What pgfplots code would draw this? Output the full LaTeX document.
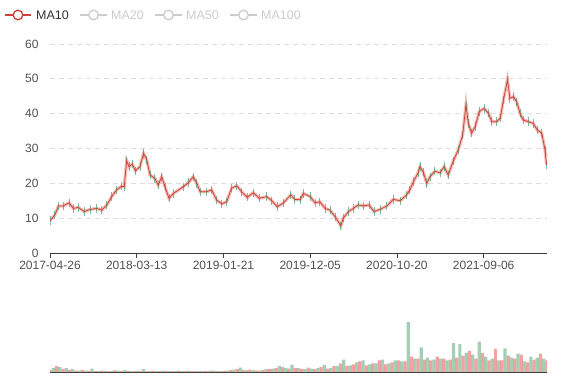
\documentclass[border=0pt]{standalone}
\usepackage{fontspec}
\setmainfont{Liberation Sans}
\usepackage{pgfplots}
\pgfplotsset{compat=1.18}
\usepackage{pgfplotstable}

\definecolor{up}{RGB}{235,84,84}
\definecolor{dn}{RGB}{71,160,110}
\definecolor{band}{RGB}{236,140,130}
\definecolor{ma}{RGB}{205,65,58}
\definecolor{txt}{RGB}{80,80,80}
\definecolor{gridc}{RGB}{222,222,222}
\definecolor{axc}{RGB}{60,60,60}
\definecolor{off}{RGB}{204,204,204}

\pgfplotstableread{
idx price
0 9.3
12 10.9
21 13.5
33 13.5
47 14.4
58 12.8
70 13.1
85 11.9
99 12.5
116 12.8
128 12.3
141 13.8
153 16.2
165 18.1
178 19.2
184 19.0
190 26.5
196 24.8
204 25.5
212 23.6
223 24.8
232 28.6
240 26.7
248 22.4
260 21.4
268 19.5
277 21.9
285 19.0
295 15.7
306 17.1
330 19.0
343 20.2
355 21.9
364 20.0
372 17.6
388 17.6
401 18.1
413 15.2
426 14.1
438 14.7
450 18.6
463 19.3
475 17.6
489 16.0
504 17.3
519 15.7
537 16.2
550 15.0
563 13.3
578 14.3
597 16.7
607 15.4
620 15.3
628 17.1
645 16.2
657 14.4
669 14.7
682 12.8
694 12.3
707 10.4
721 7.8
727 10.0
740 11.9
752 12.8
764 13.8
777 13.5
791 13.8
803 11.9
818 12.5
835 13.5
851 15.4
868 15.0
884 16.7
892 18.1
901 20.5
912 22.9
917 24.8
925 23.3
934 20.0
942 21.9
954 23.5
967 23.0
977 24.8
987 22.4
1000 26.5
1012 29.6
1023 33.9
1031 42.5
1037 37.2
1045 34.4
1054 36.3
1064 40.6
1076 41.5
1087 40.1
1095 37.7
1107 37.7
1116 38.7
1124 43.9
1134 49.7
1140 44.4
1149 44.9
1157 43.4
1165 40.1
1173 38.2
1186 37.7
1198 37.2
1208 35.3
1219 34.4
1227 29.6
1231 25.3
}\price

\pgfplotstableread{
idx vol
0 2
16 6
32 3
48 2
64 1.5
80 2
96 1.2
112 1
128 1.5
144 1
160 1.8
176 1
192 1.5
208 1
224 1.2
240 1
256 1.5
272 1
288 1.2
304 1
320 1.5
336 1
352 1.2
368 1
384 1.2
400 1.5
416 1
432 1.2
448 2
464 3
480 2
496 2.5
512 1.5
528 2
544 3
560 4
576 5
592 3.5
608 4
624 3
640 4.5
656 3
672 5
688 3.5
704 6
720 9
736 6
752 8
768 11
784 7
800 9
816 12
832 8
848 10
864 12
880 11
896 16
912 14
928 13
944 12
960 16
976 14
992 13
1008 15
1024 17
1040 22
1056 14
1072 20
1088 12
1104 24
1120 12
1136 17
1152 14
1168 18
1184 10
1200 13
1216 19
1232 12
}\volred

\pgfplotstableread{
idx vol
8 4
24 5
40 4
56 3
72 1.5
88 1.5
104 3.5
120 1
136 1.5
152 1
168 1.5
184 2
200 1
216 1.5
232 3
248 1.2
264 1
280 1.5
296 1
312 1.2
328 1
344 1.5
360 1
376 1.2
392 1
408 1.5
424 1
440 1.5
456 2.5
472 4.5
488 2
504 2
520 1.5
536 3
552 3.5
568 6.5
584 4
600 7.5
616 4
632 3
648 3.5
664 4
680 7.5
696 4
712 6
728 13
744 7
760 10
776 12
792 8
808 9
824 13
840 9
856 12
872 11
888 52
904 14
920 25.7
936 15
952 13
968 14
984 12
1000 30
1016 29
1032 20
1048 18
1064 31.5
1080 16
1096 14
1112 12
1128 24.7
1144 15
1160 19
1176 11
1192 16
1208 15
1224 14
}\volgreen

\begin{document}
\begin{tikzpicture}
\useasboundingbox (0pt,0pt) rectangle (577pt,380pt);
\begin{axis}[at={(50pt,127pt)}, anchor=south west, scale only axis,
  width=497pt, height=209pt,
  xmin=0, xmax=1232, ymin=0, ymax=60,
  ytick={0,10,...,60},
  xtick={0,215,430,645,860,1075},
  xticklabels={2017-04-26,2018-03-13,2019-01-21,2019-12-05,2020-10-20,2021-09-06},
  axis x line*=bottom, axis y line*=left,
  x axis line style={-,draw=axc,line width=0.8pt},
  y axis line style={draw=none},
  ytick style={draw=none}, xtick style={draw=axc,line width=0.8pt},
  tick align=outside, major tick length=5pt,
  ymajorgrids, grid style={gridc, line width=0.7pt, dash pattern=on 5pt off 4pt},
  tick label style={font=\fontsize{12}{14}\selectfont, text=txt},
  yticklabel style={xshift=-3pt},
  /pgf/number format/assume math mode=true,
]
\addplot[band, line width=3.2pt, opacity=0.6, mark=none] table {\price};
\addplot[draw=none, mark=none, forget plot,
  error bars/.cd, y dir=both, y fixed=1.2,
  error mark=none, error bar style={draw=dn, line width=0.8pt, opacity=0.7}] table {\price};
\addplot[ma, line width=0.75pt, mark=none] table {\price};
\end{axis}

\begin{axis}[at={(50pt,8pt)}, anchor=south west, scale only axis,
  width=497pt, height=50pt,
  xmin=0, xmax=1232, ymin=0, ymax=52,
  axis x line*=bottom, axis y line=none,
  x axis line style={-,draw=axc,line width=0.8pt},
  xtick=\empty, ytick=\empty,
  ybar, bar width=8, bar shift=0pt,
]
\addplot[fill=up, fill opacity=0.55, draw=none] table {\volred};
\addplot[fill=dn, fill opacity=0.5, draw=none] table {\volgreen};
\end{axis}

% legend
\draw[ma, line width=1.3pt] (5pt,365pt) -- (31pt,365pt);
\draw[ma, line width=1.3pt, fill=white] (18pt,365pt) circle (4.8pt);
\node[anchor=base west, inner sep=0, text=black!80, font=\fontsize{12.5}{14}\selectfont] at (36pt,360.7pt) {MA10};
\draw[off, line width=1.3pt] (80pt,365pt) -- (107pt,365pt);
\draw[off, line width=1.3pt, fill=white] (93.5pt,365pt) circle (4.8pt);
\node[anchor=base west, inner sep=0, text=off, font=\fontsize{12.5}{14}\selectfont] at (111pt,360.7pt) {MA20};
\draw[off, line width=1.3pt] (155pt,365pt) -- (182pt,365pt);
\draw[off, line width=1.3pt, fill=white] (168.5pt,365pt) circle (4.8pt);
\node[anchor=base west, inner sep=0, text=off, font=\fontsize{12.5}{14}\selectfont] at (186pt,360.7pt) {MA50};
\draw[off, line width=1.3pt] (230pt,365pt) -- (257pt,365pt);
\draw[off, line width=1.3pt, fill=white] (243.5pt,365pt) circle (4.8pt);
\node[anchor=base west, inner sep=0, text=off, font=\fontsize{12.5}{14}\selectfont] at (261pt,360.7pt) {MA100};
\end{tikzpicture}
\end{document}
